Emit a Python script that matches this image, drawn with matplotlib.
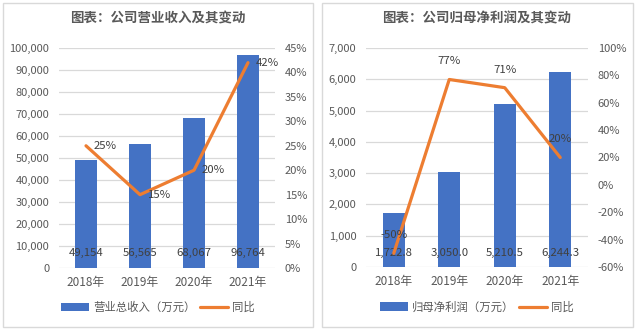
import matplotlib
matplotlib.use("Agg")
import matplotlib.pyplot as plt
from matplotlib.patches import Rectangle
from matplotlib.ticker import FuncFormatter, MultipleLocator

plt.rcParams['font.family'] = ['Noto Sans CJK SC', 'DejaVu Sans']

years = ["2018年", "2019年", "2020年", "2021年"]
revenue = [49154, 56565, 68067, 96764]
revenue_yoy = [25, 15, 20, 42]
profit = [1722.8, 3050.0, 5210.5, 6244.3]
profit_yoy = [-50, 77, 71, 20]

BLUE = "#4472C4"
ORANGE = "#ED7D31"
TEXT = "#595959"
LABEL = "#404040"
GRID = "#D9D9D9"

W, H = 637, 331
fig = plt.figure(figsize=(W / 100, H / 100), dpi=100)


def px_axes(x0, y0, x1, y1):
    return fig.add_axes([x0 / W, (H - y1) / H, (x1 - x0) / W, (y1 - y0) / H])


def style(ax, ax2):
    for a in (ax, ax2):
        for s in a.spines.values():
            s.set_visible(False)
        a.tick_params(length=0, labelsize=8, colors=TEXT)
    ax.tick_params(axis='y', pad=7)
    ax2.tick_params(axis='y', pad=7)
    ax.tick_params(axis='x', pad=6, labelsize=8.5)
    ax.grid(axis='y', color=GRID, linewidth=0.9)
    ax.set_axisbelow(True)


def panel(x0, x1, title, tx):
    fig.patches.append(Rectangle((x0 / W, (H - 327) / H), (x1 - x0) / W, 324 / H,
                                 transform=fig.transFigure, fill=False,
                                 edgecolor=GRID, linewidth=1.0))
    fig.text(tx / W, (H - 19) / H, title, ha='center', va='center',
             fontsize=9.7, fontweight='bold', color=TEXT)


def legend(handles, labels, cx):
    fig.legend(handles, labels, loc='center',
               bbox_to_anchor=(cx / W, (H - 307) / H), ncol=2, frameon=False,
               fontsize=8.2, labelcolor=TEXT, handlelength=2.5, handleheight=0.75,
               columnspacing=0.35, handletextpad=0.35)


x = range(len(years))

# Left: revenue
panel(3, 313, "图表：公司营业收入及其变动", 158)
ax = px_axes(59, 48, 275, 268)
ax2 = ax.twinx()
b1 = ax.bar(x, revenue, width=0.4, color=BLUE, zorder=2)
l1, = ax2.plot(x, revenue_yoy, color=ORANGE, linewidth=2.3, solid_capstyle='round')
ax.set_xlim(-0.5, 3.5)
ax.set_ylim(0, 100000)
ax.yaxis.set_major_locator(MultipleLocator(10000))
ax.yaxis.set_major_formatter(FuncFormatter(lambda v, p: f"{v:,.0f}"))
ax2.set_ylim(0, 45)
ax2.yaxis.set_major_locator(MultipleLocator(5))
ax2.yaxis.set_major_formatter(FuncFormatter(lambda v, p: f"{v:.0f}%"))
ax.set_xticks(list(x))
ax.set_xticklabels(years)
style(ax, ax2)
for i, v in enumerate(revenue):
    ax.annotate(f"{v:,.0f}", (i, 0), xytext=(0, 15), textcoords='offset pixels',
                ha='center', va='center', fontsize=8.2, color=LABEL)
for i, v in enumerate(revenue_yoy):
    ax2.annotate(f"{v}%", (i, v), xytext=(8, 0), textcoords='offset pixels',
                 ha='left', va='center', fontsize=8.2, color=LABEL)
legend([b1, l1], ["营业总收入（万元）", "同比"], 158)

# Right: net profit attributable to parent
panel(322, 633, "图表：公司归母净利润及其变动", 477)
ax = px_axes(366, 48, 588, 267)
ax2 = ax.twinx()
b2 = ax.bar(x, profit, width=0.4, color=BLUE, zorder=2)
l2, = ax2.plot(x, profit_yoy, color=ORANGE, linewidth=2.3, solid_capstyle='round')
ax.set_xlim(-0.5, 3.5)
ax.set_ylim(0, 7000)
ax.yaxis.set_major_locator(MultipleLocator(1000))
ax.yaxis.set_major_formatter(FuncFormatter(lambda v, p: f"{v:,.0f}"))
ax2.set_ylim(-60, 100)
ax2.yaxis.set_major_locator(MultipleLocator(20))
ax2.yaxis.set_major_formatter(FuncFormatter(lambda v, p: f"{v:.0f}%"))
ax.set_xticks(list(x))
ax.set_xticklabels(years)
style(ax, ax2)
for i, v in enumerate(profit):
    ax.annotate(f"{v:,.1f}", (i, 0), xytext=(0, 14), textcoords='offset pixels',
                ha='center', va='center', fontsize=8.2, color=LABEL)
for i, v in enumerate(profit_yoy):
    ax2.annotate(f"{v}%", (i, v), xytext=(0, 18), textcoords='offset pixels',
                 ha='center', va='center', fontsize=8.2, color=LABEL)
legend([b2, l2], ["归母净利润（万元）", "同比"], 477)

fig.savefig("out.png", dpi=100, facecolor="white")
